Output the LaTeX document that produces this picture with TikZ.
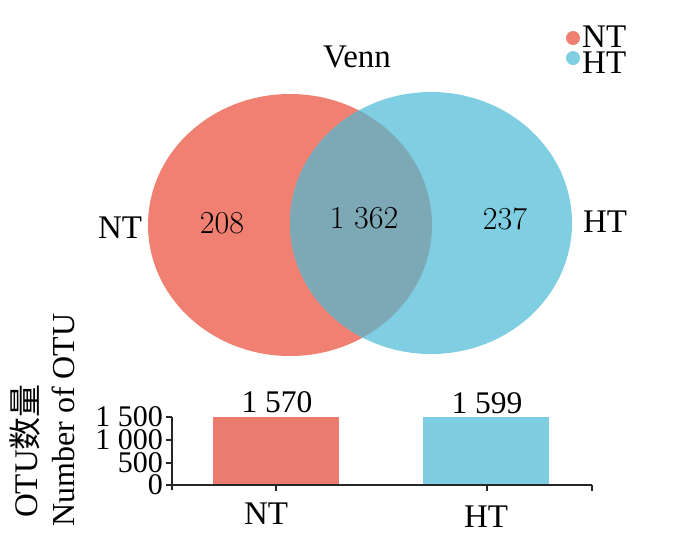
\documentclass[tikz,border=0pt]{standalone}
\usepackage{fontspec}
\newfontfamily\tnr{Liberation Serif}
\newfontfamily\cjk{Noto Sans CJK SC}
\definecolor{ntred}{RGB}{239,128,114}
\definecolor{htblue}{RGB}{127,206,225}
\definecolor{ovl}{RGB}{125,168,182}
\definecolor{barred}{RGB}{234,124,111}
\definecolor{barblue}{RGB}{126,205,224}
\begin{document}
\begin{tikzpicture}[x=1pt,y=-1pt,
  txt/.style={font=\tnr\fontsize{33}{36}\selectfont, inner sep=0pt},
  ticklab/.style={font=\tnr\fontsize{30}{32}\selectfont, inner sep=0pt, anchor=east},
  barlab/.style={font=\tnr\fontsize{31.5}{34}\selectfont, inner sep=0pt, anchor=base},
  num/.style={font=\fontsize{32}{34}\selectfont, inner sep=0pt, anchor=base},
  axis/.style={line width=1.3pt, draw=black!85}]
\useasboundingbox (0,0) rectangle (700,544);
% Venn
\fill[ntred] (290,225) ellipse [x radius=142pt, y radius=131pt];
\fill[htblue] (431,223) ellipse [x radius=141pt, y radius=131pt];
\begin{scope}
  \clip (290,225) ellipse [x radius=142pt, y radius=131pt];
  \fill[ovl] (431,223) ellipse [x radius=141pt, y radius=131pt];
\end{scope}
\node[txt, anchor=base] (title) at (357,67) {Venn};
\node[txt, anchor=base] (lNT) at (120,238) {NT};
\node[num] (n1) at (222,233) {208};
\node[num] (n2) at (364,228) {1 362};
\node[num] (n3) at (505,229) {237};
\node[txt, anchor=base] (lHT) at (605,232) {HT};
% legend
\fill[ntred] (573,38) circle (7pt);
\fill[htblue] (573,58) circle (7pt);
\node[txt, anchor=base west] (legNT) at (582,47) {NT};
\node[txt, anchor=base west] (legHT) at (582,73) {HT};
% bar chart
\fill[barred] (213,417) rectangle (339,485);
\fill[barblue] (423,417) rectangle (549,485);
\coordinate (ytop) at (172,417);
\coordinate (ybot) at (172,490);
\coordinate (o) at (172,485);
\coordinate (xend) at (592,485);
\draw[axis] (ytop) -- (ybot);
\draw[axis] (o) -- (xend);
\foreach \yy/\lab in {417/1 500, 440/1 000, 463/500, 485/0} {
  \draw[axis] (166,\yy) -- (172,\yy);
  \node[ticklab] at (163,\yy) {\lab};
}
\foreach \xx in {276,487,592} {
  \draw[axis] (\xx,485) -- (\xx,491);
}
\node[barlab] (b1) at (277,412) {1 570};
\node[barlab] (b2) at (487,413) {1 599};
\node[txt, anchor=base] (xNT) at (266,524) {NT};
\node[txt, anchor=base] (xHT) at (486,527) {HT};
\node[txt, rotate=90] (yl1) at (25,451) {OTU{\cjk 数量}};
\node[font=\tnr\fontsize{32}{34}\selectfont, inner sep=0pt, rotate=90] (yl2) at (63,420) {Number of OTU};
\end{tikzpicture}
\end{document}
